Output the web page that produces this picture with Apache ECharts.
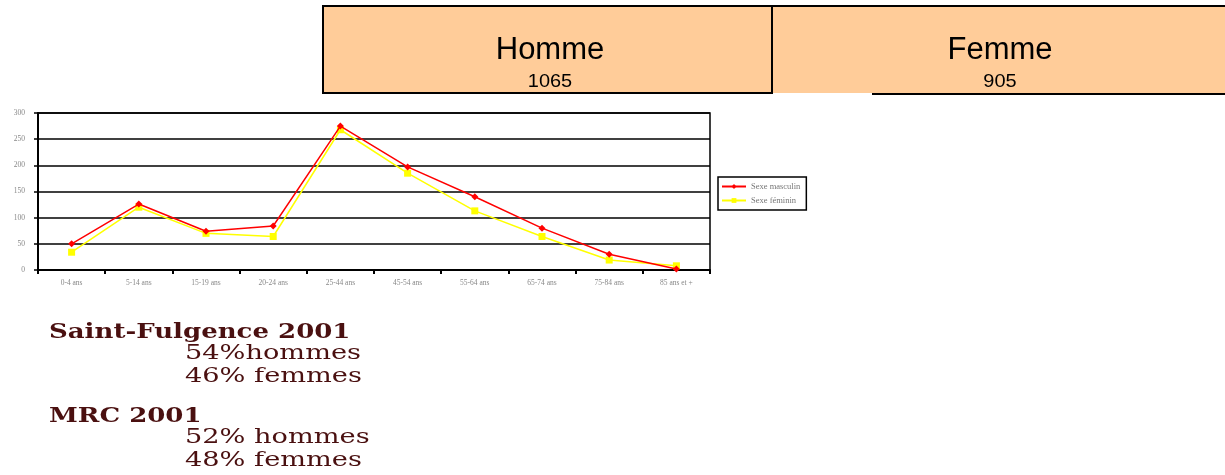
<!DOCTYPE html>
<html>
<head>
<meta charset="utf-8">
<script src="https://cdn.jsdelivr.net/npm/echarts@6/dist/echarts.min.js"></script>
<style>
    html, body { margin: 0; padding: 0; background: #fff; }
    #chart { width: 1225px; height: 475px; }
</style>
</head>
<body>
<div id="chart"></div>
<script>
    var ageGroups = ['0-4 ans', '5-14 ans', '15-19 ans', '20-24 ans', '25-44 ans', '45-54 ans', '55-64 ans', '65-74 ans', '75-84 ans', '85 ans et +'];
    var masculin = [50, 126, 74, 84, 275, 197, 140, 80, 30, 2];
    var feminin = [34, 120, 70, 64, 268, 185, 113, 64, 19, 8];
    var seriesNames = ['Sexe masculin', 'Sexe féminin'];
    var totalLabels = ['Homme', 'Femme'];
    var totals = [1065, 905];
    var notes = [
        ['Saint-Fulgence 2001', '54%hommes', '46% femmes'],
        ['MRC 2001', '52% hommes', '48% femmes']
    ];

    var mycharts = echarts.init(document.getElementById('chart'));
    var serif = '"DejaVu Serif", "Liberation Serif", serif';
    var sans = '"Liberation Sans", Arial, sans-serif';

    var graphics = [
        // tableau Homme / Femme
        { type: 'rect', shape: { x: 322, y: 5, width: 450, height: 88 }, style: { fill: '#ffcc99', stroke: null } },
        { type: 'rect', shape: { x: 772, y: 5, width: 453, height: 88 }, style: { fill: '#ffcc99', stroke: null } },
        { type: 'line', shape: { x1: 322, y1: 6, x2: 1225, y2: 6 }, style: { stroke: '#000', lineWidth: 2 } },
        { type: 'line', shape: { x1: 323, y1: 5, x2: 323, y2: 94 }, style: { stroke: '#000', lineWidth: 2 } },
        { type: 'line', shape: { x1: 772, y1: 5, x2: 772, y2: 94 }, style: { stroke: '#000', lineWidth: 2 } },
        { type: 'line', shape: { x1: 322, y1: 93, x2: 772, y2: 93 }, style: { stroke: '#000', lineWidth: 2 } },
        { type: 'line', shape: { x1: 872, y1: 94, x2: 1225, y2: 94 }, style: { stroke: '#000', lineWidth: 2 } }
    ];
    var cellCenters = [550, 1000];
    for (var i = 0; i < totalLabels.length; i++) {
        graphics.push({ type: 'text', x: cellCenters[i], y: 50, style: { text: totalLabels[i], font: '31px ' + sans, fill: '#000', align: 'center', verticalAlign: 'middle' } });
        graphics.push({ type: 'text', x: cellCenters[i], y: 82, scaleX: 1.05, style: { text: String(totals[i]), font: '19px ' + sans, fill: '#000', align: 'center', verticalAlign: 'middle' } });
    }
    // notes en bas
    var noteTops = [333, 417];
    for (var j = 0; j < notes.length; j++) {
        graphics.push({ type: 'text', x: 49, y: noteTops[j], scaleX: 1.3, style: { text: notes[j][0], font: 'bold 20px ' + serif, fill: '#4a1010', verticalAlign: 'middle' } });
        graphics.push({ type: 'text', x: 185, y: noteTops[j] + 21, scaleX: 1.36, style: { text: notes[j][1], font: '20px ' + serif, fill: '#4a1010', verticalAlign: 'middle' } });
        graphics.push({ type: 'text', x: 185, y: noteTops[j] + 44, scaleX: 1.36, style: { text: notes[j][2], font: '20px ' + serif, fill: '#4a1010', verticalAlign: 'middle' } });
    }

    var option = {
        animation: false,
        backgroundColor: '#fff',
        graphic: graphics,
        legend: {
            orient: 'vertical',
            left: 718,
            top: 177,
            padding: [5, 6, 5, 3],
            itemGap: 5,
            itemWidth: 24,
            itemHeight: 6,
            borderColor: '#000',
            borderWidth: 1.5,
            textStyle: { fontSize: 8.5, color: '#777', fontFamily: '"Liberation Serif", serif' },
            data: seriesNames
        },
        grid: {
            left: 38,
            top: 113,
            width: 672,
            height: 157,
            show: true,
            borderColor: '#000',
            borderWidth: 1.5
        },
        xAxis: {
            type: 'category',
            boundaryGap: true,
            data: ageGroups,
            axisLine: { lineStyle: { color: '#000', width: 2 } },
            axisTick: { show: true, length: 4, lineStyle: { color: '#000', width: 2 } },
            axisLabel: { fontSize: 7.5, color: '#888', fontFamily: '"Liberation Serif", serif', margin: 9, interval: 0 }
        },
        yAxis: {
            type: 'value',
            min: 0,
            max: 300,
            interval: 50,
            axisLine: { show: true, lineStyle: { color: '#000', width: 2 } },
            axisTick: { show: true, length: 4, lineStyle: { color: '#000', width: 1.5 } },
            axisLabel: { fontSize: 7.5, color: '#888', fontFamily: '"Liberation Serif", serif', margin: 13 },
            splitLine: { show: true, lineStyle: { color: '#000', width: 1.5 } }
        },
        series: [
            {
                name: seriesNames[0],
                type: 'line',
                data: masculin,
                symbol: 'diamond',
                symbolSize: 7,
                color: '#ff0000',
                lineStyle: { color: '#ff0000', width: 1.5 },
                itemStyle: { color: '#ff0000' },
                z: 3
            },
            {
                name: seriesNames[1],
                type: 'line',
                data: feminin,
                symbol: 'rect',
                symbolSize: 7,
                color: '#ffff00',
                lineStyle: { color: '#ffff00', width: 1.5 },
                itemStyle: { color: '#ffff00' },
                z: 2
            }
        ]
    };
    mycharts.setOption(option);
</script>
</body>
</html>
